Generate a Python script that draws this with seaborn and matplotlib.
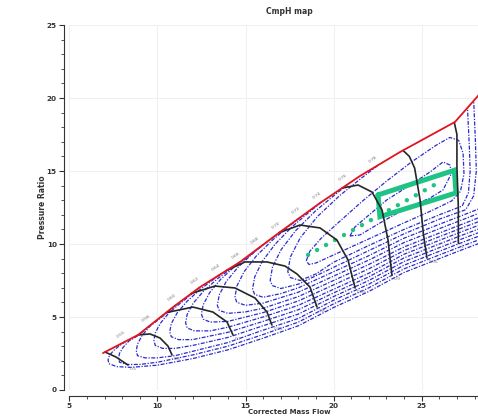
import matplotlib
matplotlib.use("Agg")
import matplotlib.pyplot as plt
import seaborn as sns
import pandas as pd
from matplotlib.ticker import MultipleLocator

# ---------------- data ----------------
surge_x = [6.91, 8.90, 10.89, 12.42, 14.69, 16.96, 19.23, 21.50, 23.77, 26.89, 28.14, 29.16]
surge_y = [2.53, 3.77, 5.68, 7.05, 8.77, 10.82, 12.81, 14.66, 16.30, 18.36, 20.07, 21.50]

speed_names = ["0.5", "0.6", "0.7", "0.75", "0.8", "0.85", "0.9", "0.95", "1"]
speed_x = [
    [7.03, 7.65, 8.33],
    [8.90, 9.58, 10.15, 10.60, 10.83],
    [10.50, 12.02, 13.15, 13.95, 14.29],
    [11.90, 13.26, 14.40, 15.54, 16.22, 16.50],
    [13.90, 14.97, 16.22, 17.24, 17.92, 18.66, 19.06],
    [16.90, 18.09, 19.23, 20.19, 20.82, 21.22],
    [20.48, 21.39, 22.18, 22.75, 23.09, 23.31],
    [23.94, 24.30, 24.60, 24.91, 25.09, 25.30],
    [26.85, 27.00, 27.00, 27.08, 27.08],
]
speed_y = [
    [2.60, 2.26, 1.71],
    [3.77, 3.84, 3.56, 3.01, 2.40],
    [5.30, 5.68, 5.34, 4.66, 3.77],
    [6.60, 7.12, 6.99, 6.30, 5.34, 4.45],
    [8.17, 8.77, 8.77, 8.49, 7.95, 7.05, 5.68],
    [10.77, 11.30, 11.10, 10.27, 8.90, 6.99],
    [13.83, 14.04, 13.56, 12.33, 10.27, 7.88],
    [16.41, 16.00, 15.20, 13.00, 10.75, 9.04],
    [18.33, 17.50, 15.30, 12.50, 10.05],
]

eff_names = ["0.82", "0.80", "0.78", "0.76", "0.74", "0.72", "0.70", "0.68",
             "0.66", "0.64", "0.62", "0.60", "0.58", "0.55"]
eff_x = [
    [20.93, 21.20, 21.67, 23.01, 24.30, 25.47, 26.21, 26.60, 26.70, 26.21, 25.47, 23.94, 22.63, 21.50, 20.93],
    [18.45, 18.65, 19.30, 20.30, 21.60, 23.00, 24.40, 25.80, 26.60, 27.10, 27.35, 27.40, 27.20, 26.70, 25.50, 24.00, 22.00, 20.00, 19.00, 18.60, 18.45],
    [22.50, 21.48, 20.36, 19.08, 18.11, 17.55, 17.40, 17.55, 18.10, 19.00, 20.00, 22.00, 24.00, 26.00, 27.30, 27.65, 27.75, 27.70, 27.60],
    [20.80, 19.92, 18.95, 17.85, 17.02, 16.53, 16.40, 16.53, 17.00, 18.00, 20.00, 22.00, 24.00, 26.00, 27.50, 27.95, 28.10, 28.05, 27.95],
    [19.30, 18.52, 17.66, 16.69, 15.95, 15.52, 15.40, 15.52, 16.00, 17.00, 18.00, 20.00, 22.00, 24.00, 26.00, 27.50, 29.50],
    [18.10, 17.36, 16.55, 15.62, 14.92, 14.51, 14.40, 14.51, 15.00, 16.00, 18.00, 20.00, 22.00, 24.00, 26.00, 27.50, 29.50],
    [17.00, 16.28, 15.49, 14.59, 13.90, 13.51, 13.40, 13.51, 14.00, 15.00, 16.00, 18.00, 20.00, 22.00, 24.00, 26.00, 27.50, 29.50],
    [15.80, 15.14, 14.41, 13.59, 12.96, 12.60, 12.50, 12.60, 13.00, 14.00, 16.00, 18.00, 20.00, 22.00, 24.00, 26.00, 27.50, 29.50],
    [14.70, 14.08, 13.40, 12.62, 12.03, 11.69, 11.60, 11.69, 12.10, 13.00, 14.00, 16.00, 18.00, 20.00, 22.00, 24.00, 26.00, 27.50, 29.50],
    [13.60, 13.02, 12.38, 11.66, 11.11, 10.79, 10.70, 10.79, 11.20, 12.00, 14.00, 16.00, 18.00, 20.00, 22.00, 24.00, 26.00, 27.50, 29.50],
    [12.40, 11.88, 11.31, 10.66, 10.16, 9.88, 9.80, 9.88, 10.30, 11.00, 12.00, 14.00, 16.00, 18.00, 20.00, 22.00, 24.00, 26.00, 27.50, 29.50],
    [11.10, 10.64, 10.13, 9.56, 9.12, 8.87, 8.80, 8.87, 9.30, 10.00, 11.00, 12.00, 14.00, 16.00, 18.00, 20.00, 22.00, 24.00, 26.00, 27.50, 29.50],
    [9.60, 9.24, 8.84, 8.39, 8.05, 7.85, 7.80, 7.85, 8.30, 9.00, 10.00, 12.00, 14.00, 16.00, 18.00, 20.00, 22.00, 24.00, 26.00, 27.50, 29.50],
    [8.20, 8.00, 7.78, 7.53, 7.34, 7.23, 7.20, 7.25, 7.70, 8.50, 10.00, 12.00, 14.00, 16.00, 18.00, 20.00, 22.00, 24.00, 26.00, 27.50, 29.50],
]
eff_y = [
    [10.55, 11.15, 11.64, 13.01, 14.00, 14.93, 15.62, 15.41, 14.86, 13.70, 13.15, 12.33, 11.44, 10.62, 10.55],
    [8.85, 9.50, 10.40, 11.50, 12.90, 14.30, 15.60, 16.75, 17.30, 17.10, 16.20, 14.80, 13.60, 12.95, 12.25, 11.45, 10.35, 9.25, 8.70, 8.60, 8.85],
    [15.37, 14.42, 13.33, 11.88, 10.43, 9.12, 8.10, 7.70, 7.50, 7.95, 8.75, 9.90, 11.00, 12.00, 12.60, 13.50, 15.00, 16.80, 19.30],
    [14.08, 13.22, 12.24, 10.92, 9.61, 8.42, 7.50, 7.15, 6.95, 7.25, 8.40, 9.55, 10.70, 11.70, 12.35, 13.30, 15.00, 17.00, 19.85],
    [12.87, 12.09, 11.20, 10.00, 8.81, 7.74, 6.90, 6.55, 6.35, 6.60, 7.00, 8.10, 9.20, 10.40, 11.35, 12.05, 13.00],
    [11.82, 11.11, 10.29, 9.19, 8.10, 7.12, 6.35, 6.00, 5.80, 5.95, 6.70, 7.80, 8.90, 10.10, 11.05, 11.75, 12.70],
    [10.85, 10.19, 9.44, 8.43, 7.42, 6.51, 5.80, 5.45, 5.25, 5.35, 5.60, 6.40, 7.50, 8.60, 9.80, 10.75, 11.45, 12.40],
    [9.77, 9.10, 8.49, 7.58, 6.66, 5.84, 5.20, 4.85, 4.65, 4.70, 5.30, 6.10, 7.20, 8.30, 9.55, 10.50, 11.20, 12.10],
    [8.78, 8.24, 7.61, 6.77, 5.94, 5.19, 4.60, 4.25, 4.05, 4.05, 4.30, 5.00, 5.80, 6.90, 8.00, 9.30, 10.25, 10.95, 11.85],
    [7.94, 7.43, 6.84, 6.05, 5.26, 4.55, 4.00, 3.65, 3.45, 3.45, 3.95, 4.70, 5.50, 6.65, 7.75, 9.05, 10.00, 10.70, 11.60],
    [7.03, 6.50, 5.95, 5.29, 4.56, 3.91, 3.40, 3.05, 2.85, 2.85, 3.05, 3.60, 4.40, 5.20, 6.40, 7.50, 8.80, 9.75, 10.45, 11.35],
    [5.87, 5.38, 4.88, 4.35, 3.71, 3.14, 2.70, 2.35, 2.20, 2.20, 2.35, 2.65, 3.25, 4.10, 4.90, 6.15, 7.25, 8.55, 9.50, 10.20, 11.10],
    [4.44, 4.05, 3.68, 3.36, 2.92, 2.51, 2.20, 1.90, 1.75, 1.75, 1.90, 2.40, 3.00, 3.80, 4.65, 5.90, 7.00, 8.30, 9.25, 9.95, 10.85],
    [3.33, 3.16, 2.97, 2.72, 2.46, 2.23, 2.05, 1.80, 1.60, 1.55, 1.70, 2.15, 2.75, 3.55, 4.40, 5.65, 6.75, 8.05, 9.00, 9.70, 10.60],
]

best_x = [18.55, 25.92]
best_y = [9.25, 14.18]
zone_x = [22.52, 26.85, 26.95, 22.63, 22.52]
zone_y = [13.36, 15.05, 13.50, 11.87, 13.36]

x_ticks = [5, 10, 15, 20, 25, 30]
x_tick_labels = ["5", "10", "15", "20", "25", ""]
y_ticks = [0, 5, 10, 15, 20, 25]

# ---------------- figure ----------------
sns.set_style("white")
plt.rcParams["font.family"] = ["DejaVu Sans"]

fig = plt.figure(figsize=(4.78, 4.16), dpi=100)
ax = fig.add_axes([0.145, 0.0625, 0.9215, 0.8774])

ax.grid(True, color="#f0f0f0", linewidth=0.8)
ax.set_axisbelow(True)

blue = "#2a2ad0"
for xs, ys in zip(eff_x, eff_y):
    ax.plot(xs, ys, color=blue, linewidth=0.9,
            linestyle=(0, (3.2, 1.2, 1.0, 1.2)), zorder=2)

# green optimum band and best-efficiency line
green = "#1fc386"
ax.plot(zone_x, zone_y, color=green, linewidth=3.6, solid_joinstyle="miter", zorder=3)
ax.plot(best_x, best_y, color=green, linewidth=3.2, linestyle=(0, (0.01, 2.3)),
        dash_capstyle="round", zorder=3)

# speed lines
for xs, ys in zip(speed_x, speed_y):
    sns.lineplot(x=xs, y=ys, sort=False, estimator=None, color="#262626",
                 linewidth=1.2, ax=ax, zorder=4)

# surge line
sns.lineplot(x=surge_x, y=surge_y, sort=False, estimator=None, color="#e0141e",
             linewidth=1.3, ax=ax, zorder=5)

# small contour labels
for name, xs, ys in zip(eff_names[2:], eff_x[2:], eff_y[2:]):
    ax.text(xs[0] - 0.25, ys[0] + 0.15, name, fontsize=3.2, color="#777777",
            ha="center", va="bottom", rotation=35, zorder=6)
for name, xs, ys in zip(speed_names, speed_x, speed_y):
    ax.text(xs[-1] + 0.1, ys[-1] - 0.15, name, fontsize=3.2, color="#777777",
            ha="left", va="top", zorder=6)

ax.set_xlim(5, 30)
ax.set_ylim(0, 25)
ax.set_xticks(x_ticks, x_tick_labels)
ax.set_yticks(y_ticks, [str(v) for v in y_ticks])
ax.xaxis.set_minor_locator(MultipleLocator(1))
ax.yaxis.set_minor_locator(MultipleLocator(1))

for s in ["top", "right"]:
    ax.spines[s].set_visible(False)
for s in ["left", "bottom"]:
    ax.spines[s].set_position(("outward", 4))
    ax.spines[s].set_color("#333333")
    ax.spines[s].set_linewidth(0.8)

ax.tick_params(axis="both", which="major", direction="out", length=3.5, width=0.8,
               labelsize=5.2, colors="#333333", pad=1.5, left=True, bottom=True)
ax.tick_params(axis="both", which="minor", direction="out", length=2, width=0.6,
               colors="#333333", left=True, bottom=True)
for lab in ax.get_xticklabels() + ax.get_yticklabels():
    lab.set_fontweight("bold")

ax.set_title("CmpH map", fontsize=5.5, fontweight="bold", color="#333333", pad=8)
ax.set_xlabel("Corrected Mass Flow", fontsize=5.0, fontweight="bold", color="#333333", labelpad=0.4)
ax.set_ylabel("Pressure Ratio", fontsize=5.5, fontweight="bold", color="#333333", labelpad=0)

fig.savefig("out.png", dpi=100)
